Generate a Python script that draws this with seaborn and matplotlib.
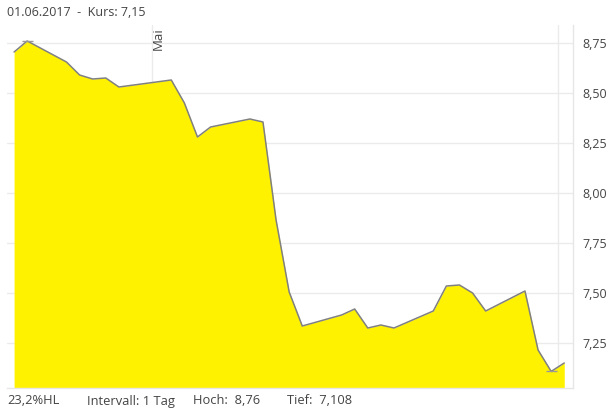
import matplotlib
matplotlib.use("Agg")
import matplotlib.pyplot as plt
import matplotlib.dates as mdates
import matplotlib.ticker as mticker
import seaborn as sns
import pandas as pd

# ---- data ----
dates = ["2017-04-20", "2017-04-21", "2017-04-24", "2017-04-25", "2017-04-26",
         "2017-04-27", "2017-04-28", "2017-05-02", "2017-05-03", "2017-05-04",
         "2017-05-05", "2017-05-08", "2017-05-09", "2017-05-10", "2017-05-11",
         "2017-05-12", "2017-05-15", "2017-05-16", "2017-05-17", "2017-05-18",
         "2017-05-19", "2017-05-22", "2017-05-23", "2017-05-24", "2017-05-25",
         "2017-05-26", "2017-05-29", "2017-05-30", "2017-05-31", "2017-06-01"]
prices = [8.705, 8.76, 8.655, 8.59, 8.57,
          8.575, 8.53, 8.565, 8.45, 8.28,
          8.33, 8.37, 8.355, 7.865, 7.505,
          7.335, 7.39, 7.42, 7.325, 7.34,
          7.325, 7.41, 7.535, 7.54, 7.50,
          7.41, 7.51, 7.215, 7.108, 7.15]
y_ticks = [7.25, 7.50, 7.75, 8.00, 8.25, 8.50, 8.75]
month_lines = ["2017-05-01", "2017-06-01"]
month_labels = ["Mai"]
title_text = "01.06.2017  -  Kurs: 7,15"
footer_texts = ["23,2%HL", "Intervall: 1 Tag", "Hoch:  8,76", "Tief:  7,108"]

df = pd.DataFrame({"date": pd.to_datetime(dates), "price": prices})

# ---- style ----
sns.set_style("white")
plt.rcParams["font.family"] = ["Open Sans", "DejaVu Sans"]
text_color = "#444444"
grid_color = "#ebebeb"

fig = plt.figure(figsize=(6.12, 4.13), dpi=100)
ax = fig.add_axes([7 / 612, 1 - 388 / 413, (573 - 7) / 612, (388 - 25) / 413])

ylo, yhi = 7.025, 8.84
ax.set_ylim(ylo, yhi)
half = pd.Timedelta(hours=12)
ax.set_xlim(df["date"].iloc[0] - pd.Timedelta(hours=13),
            df["date"].iloc[-1] + pd.Timedelta(hours=16))

# grid lines
for t in y_ticks:
    ax.axhline(t, color=grid_color, lw=1, zorder=0)
for m in month_lines:
    ax.axvline(pd.Timestamp(m) - half, color=grid_color, lw=1, zorder=0)

ax.fill_between(df["date"], df["price"], ylo, color="#fff200", lw=0, zorder=1)
sns.lineplot(data=df, x="date", y="price", ax=ax, color="#808080", lw=1.1, zorder=2)

# high / low markers
imax = df["price"].idxmax()
imin = df["price"].idxmin()
mk = pd.Timedelta(hours=10)
ax.hlines(df["price"][imax], df["date"][imax] - mk, df["date"][imax] + mk, color="#999999", lw=1, zorder=3)
ax.hlines(df["price"][imin], df["date"][imin] - mk, df["date"][imin] + mk, color="#999999", lw=1, zorder=3)

# month label
for m, lab in zip(month_lines, month_labels):
    ax.text(pd.Timestamp(m) - half + pd.Timedelta(hours=12), yhi - 0.01, lab, rotation=90,
            ha="center", va="top", fontsize=9.5, color=text_color)

ax.yaxis.tick_right()
ax.set_yticks(y_ticks)
ax.yaxis.set_major_formatter(mticker.FuncFormatter(lambda v, p: f"{v:.2f}".replace(".", ",")))
ax.tick_params(axis="y", length=0, pad=7, labelsize=9, labelcolor=text_color)
ax.set_xticks([])
ax.set_xlabel("")
ax.set_ylabel("")

for s in ["top", "left"]:
    ax.spines[s].set_visible(False)
for s in ["right", "bottom"]:
    ax.spines[s].set_color("#e6e6e6")
    ax.spines[s].set_linewidth(1)

fig.text(7 / 612, 1 - 12 / 413, title_text, ha="left", va="center", fontsize=9, color=text_color)
footer_x = [7, 87, 193, 287]
for fx, ft in zip(footer_x, footer_texts):
    fig.text(fx / 612, 1 - 401 / 413, ft, ha="left", va="center", fontsize=9.3, color=text_color)

fig.savefig("out.png", dpi=100)
